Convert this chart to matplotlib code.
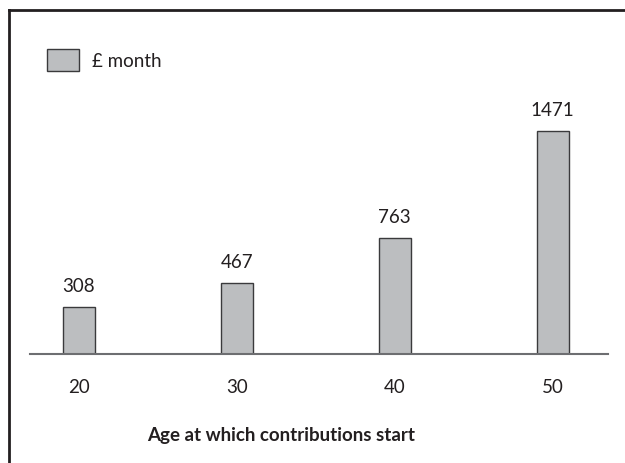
import matplotlib.pyplot as plt
from matplotlib.patches import Patch
from matplotlib.lines import Line2D

# Datos
edades = ['20', '30', '40', '50']
mensual = [308, 467, 763, 1471]

texto = '#231f20'
plt.rcParams['font.family'] = ['Lato', 'DejaVu Sans']

fig = plt.figure(figsize=(6.25, 4.64), dpi=100)
ax = fig.add_axes([0.048, 0.2349, 0.9248, 0.5229])

x = range(len(edades))
ax.bar(x, mensual, width=0.2, color='#bcbec0', edgecolor='#3a3a3c', linewidth=1.0)
for xi, v in zip(x, mensual):
    ax.text(xi, v + 85, str(v), ha='center', va='bottom', fontsize=13.5, color=texto)

ax.set_xlim(-0.31, 3.35)
ax.set_ylim(0, 1600)
ax.set_xticks(list(x))
ax.set_xticklabels(edades, fontsize=13.5, color=texto)
ax.tick_params(axis='x', length=0, pad=17)
ax.set_yticks([])
for s in ['top', 'right', 'left']:
    ax.spines[s].set_visible(False)
ax.spines['bottom'].set_color('#6d6e71')
ax.spines['bottom'].set_linewidth(1.5)
ax.set_xlabel('Age at which contributions start', fontsize=13.5, fontweight='bold',
              color=texto)
ax.xaxis.set_label_coords(0.434, -0.295)

# Leyenda
leyenda = [Patch(facecolor='#bcbec0', edgecolor='#3a3a3c', linewidth=1.0, label='£ month')]
fig.legend(handles=leyenda, loc='upper left', bbox_to_anchor=(0.0752, 0.893),
           borderaxespad=0, borderpad=0, frameon=False, fontsize=13.5,
           handlelength=1.7, handleheight=1.45, handletextpad=0.7, labelcolor=texto)

# Marco
fig.add_artist(Line2D([0.0144, 1.0], [0.977, 0.977], transform=fig.transFigure,
                      color='#231f20', linewidth=2))
fig.add_artist(Line2D([0.0144, 0.0144], [0.0, 0.977], transform=fig.transFigure,
                      color='#231f20', linewidth=2))

plt.savefig('out.png', dpi=100)
